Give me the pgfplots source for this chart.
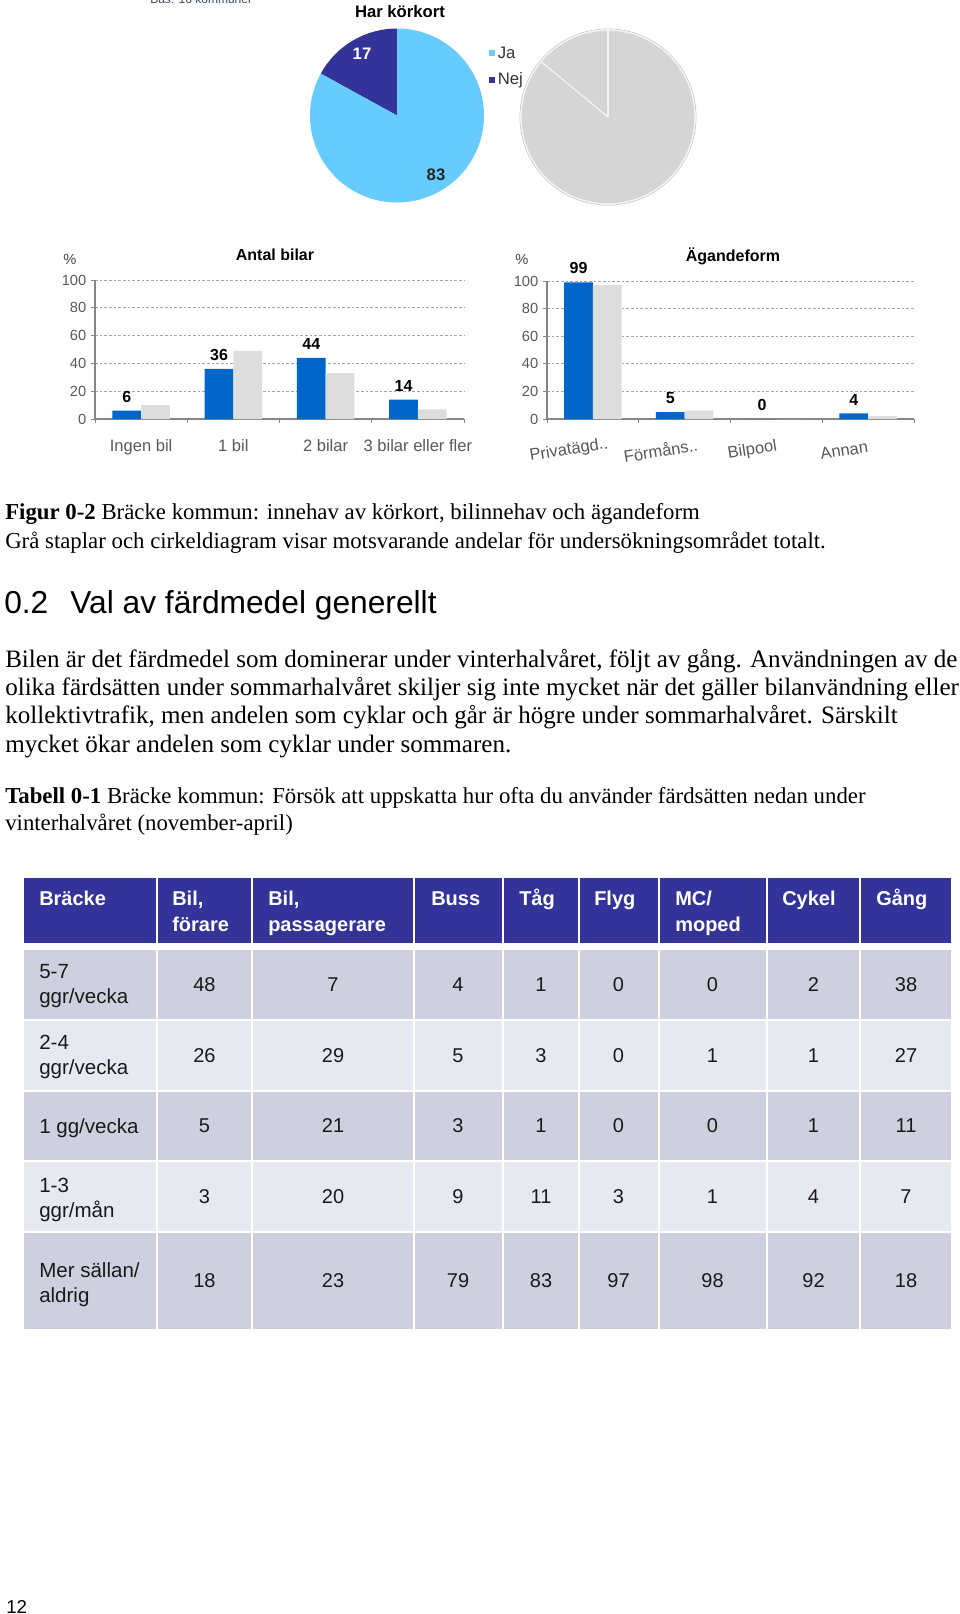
\documentclass[border=0pt]{standalone}
\usepackage{fontspec}
\setmainfont{Liberation Serif}
\newfontfamily\arial{Liberation Sans}
\usepackage{pgfplots}
\pgfplotsset{compat=1.18}

\definecolor{barblue}{HTML}{0066CC}
\definecolor{bargrey}{HTML}{DDDDDD}
\definecolor{pieja}{HTML}{66CCFF}
\definecolor{pienej}{HTML}{333399}
\definecolor{piegrey}{HTML}{D5D5D5}
\definecolor{hdr}{HTML}{333399}
\definecolor{rowA}{RGB}{207,207,223}
\definecolor{rowB}{RGB}{232,232,240}
\definecolor{ticktext}{HTML}{595959}
\definecolor{axisgrey}{HTML}{868686}
\definecolor{gridgrey}{HTML}{A6A6A6}
\definecolor{celltext}{HTML}{1A1A1A}

\pgfplotsset{barchart/.style={
  scale only axis, anchor=south west,
  xmin=0, xmax=4, ymin=0, ymax=100,
  enlargelimits=false,
  axis x line*=bottom, axis y line*=left,
  axis line style={axisgrey, line width=0.8pt},
  xtick={0,1,2,3,4}, x tick label as interval,
  ytick={0,20,...,100},
  tick align=outside, major tick length=3pt,
  tick style={axisgrey, line width=0.6pt},
  ymajorgrids,
  major grid style={gridgrey, dash pattern=on 2pt off 1.5pt, line width=0.6pt},
  ybar=0pt, bar width=21.5pt,
  yticklabel style={font=\arial\fontsize{11}{12}\selectfont, text=ticktext},
  /pgf/number format/assume math mode=true,
  clip=false,
}}
\tikzset{
  datalbl/.style={font=\arial\bfseries\fontsize{12}{13}\selectfont, text=black, anchor=south, inner sep=0pt, yshift=6pt},
  cellnum/.style={font=\arial\fontsize{15}{18}\selectfont, text=celltext, inner sep=0pt, anchor=center},
  celllbl/.style={font=\arial\fontsize{15.4}{18}\selectfont, text=celltext, inner sep=0pt, anchor=base west},
  hdrtxt/.style={font=\arial\bfseries\fontsize{15}{18}\selectfont, text=white, inner sep=0pt, anchor=base west},
  body/.style={font=\fontsize{18.8}{22}\selectfont, inner sep=0pt, anchor=base west},
  capt/.style={font=\fontsize{17.1}{20}\selectfont, inner sep=0pt, anchor=base west},
}
\newcommand\rowvals[2]{%
  \foreach \v [count=\i from 0] in {#2} {%
    \pgfmathsetmacro\xc{{204.5,333,458,541,618.5,712.5,813.5,906}[\i]}%
    \node[cellnum] at (\xc,#1) {\v};}}

% pie data
\def\JaA{83}\def\NejA{17}
\def\JaB{86}\def\NejB{14}

\begin{document}
\begin{tikzpicture}[x=0.75pt, y=-0.75pt]
\useasboundingbox (0,0) rectangle (960,1614);
\fill[white] (0,0) rectangle (960,1614);
\clip (0,0) rectangle (960,1614);

% clipped header text at very top
\node[anchor=base west, inner sep=0, font=\arial\fontsize{9}{11}\selectfont, text={rgb,255:red,60;green,70;blue,110}] at (150,3) {Bas: 16 kommuner};

% ---------- Pie charts ----------
\coordinate (pieA) at (397,115.5);
\coordinate (pieB) at (608,117);
\pgfmathsetmacro\angA{90+\NejA*3.6}
\pgfmathsetmacro\angB{90+\NejB*3.6}

\begin{axis}[at={(pieA)}, anchor=center, scale only axis, width=130.5pt, height=130.5pt,
  xmin=-1, xmax=1, ymin=-1, ymax=1, hide axis, clip=false]
  \fill[pienej] (axis cs:0,0) -- ++(90:65.25pt) arc[start angle=90, end angle=\angA, radius=65.25pt] -- cycle;
  \fill[pieja] (axis cs:0,0) -- ++(\angA:65.25pt) arc[start angle=\angA, end angle=450, radius=65.25pt] -- cycle;
\end{axis}

\begin{axis}[at={(pieB)}, anchor=center, scale only axis, width=130.5pt, height=130.5pt,
  xmin=-1, xmax=1, ymin=-1, ymax=1, hide axis, clip=false]
  \draw[gray!45, line width=0.6pt] (axis cs:0,0) circle[radius=66pt];
  \fill[piegrey] (axis cs:0,0) -- ++(90:65.25pt) arc[start angle=90, end angle=\angB, radius=65.25pt] -- cycle;
  \fill[piegrey] (axis cs:0,0) -- ++(\angB:65.25pt) arc[start angle=\angB, end angle=450, radius=65.25pt] -- cycle;
  \draw[white!92!gray, line width=1pt] (axis cs:0,0) circle[radius=65.25pt];
  \draw[white!92!gray, line width=0.9pt] (axis cs:0,0) -- ++(90:65.25pt);
  \draw[white!92!gray, line width=0.9pt] (axis cs:0,0) -- ++(\angB:65.25pt);
\end{axis}

\node[font=\arial\bfseries\fontsize{12.5}{14}\selectfont, inner sep=0] at (400,12) {Har körkort};
\node[font=\arial\bfseries\fontsize{12.5}{14}\selectfont, text=white, inner sep=0] at (362,54) {\NejA};
\node[font=\arial\bfseries\fontsize{12.5}{14}\selectfont, text=black!85, inner sep=0] at (436,175) {\JaA};
\fill[pieja] (489,50) rectangle (495,56);
\fill[pienej] (489,77) rectangle (495,83);
\node[anchor=west, inner sep=0, font=\arial\fontsize{12.5}{14}\selectfont, text=black!80] at (497.5,53) {Ja};
\node[anchor=west, inner sep=0, font=\arial\fontsize{12.5}{14}\selectfont, text=black!80] at (497.5,80) {Nej};

% ---------- Bar chart: Antal bilar ----------
\coordinate (barA) at (95,419);
\begin{axis}[barchart, at={(barA)}, width=276.75pt, height=104.25pt,
  xticklabels={Ingen bil, 1 bil, 2 bilar, 3 bilar eller fler},
  xticklabel style={font=\arial\fontsize{12.4}{14}\selectfont, text=ticktext, anchor=base, yshift=-21pt}]
  \addplot[fill=barblue, draw=none, nodes near coords, nodes near coords style={datalbl}]
    coordinates {(0.5,6) (1.5,36) (2.5,44) (3.5,14)};
  \addplot[fill=bargrey, draw=none]
    coordinates {(0.5,10) (1.5,49) (2.5,33) (3.5,7)};
\end{axis}
\node[font=\arial\bfseries\fontsize{12}{14}\selectfont, inner sep=0] at (275,255) {Antal bilar};
\node[font=\arial\fontsize{11}{12}\selectfont, text=ticktext!80!black, inner sep=0] at (70,259) {\%};

% ---------- Bar chart: Ägandeform ----------
\coordinate (barB) at (547,419);
\begin{axis}[barchart, at={(barB)}, width=275.25pt, height=103.5pt,
  xticklabels={Privatägd.., Förmåns.., Bilpool, Annan},
  xticklabel style={font=\arial\fontsize{12.4}{14}\selectfont, text=ticktext, anchor=center, rotate=9, xshift=-21pt, yshift=-17.5pt}]
  \addplot[fill=barblue, draw=none, nodes near coords, nodes near coords style={datalbl}]
    coordinates {(0.5,99) (1.5,5) (2.5,0) (3.5,4)};
  \addplot[fill=bargrey, draw=none]
    coordinates {(0.5,97) (1.5,6) (2.5,0) (3.5,2)};
\end{axis}
\node[font=\arial\bfseries\fontsize{12}{14}\selectfont, inner sep=0] at (733,256) {Ägandeform};
\node[font=\arial\fontsize{11}{12}\selectfont, text=ticktext!80!black, inner sep=0] at (522,259) {\%};

% ---------- Text ----------
\node[capt] at (5,519) {\textbf{Figur 0-2} Bräcke kommun: innehav av körkort, bilinnehav och ägandeform};
\node[capt] at (5,548) {Grå staplar och cirkeldiagram visar motsvarande andelar för undersökningsområdet totalt.};
\node[anchor=base west, inner sep=0, font=\arial\fontsize{23.8}{28}\selectfont] at (4,613) {0.2\hspace{16.5pt}Val av färdmedel generellt};
\node[body] at (5,667) {Bilen är det färdmedel som dominerar under vinterhalvåret, följt av gång. Användningen av de};
\node[body] at (5,695) {olika färdsätten under sommarhalvåret skiljer sig inte mycket när det gäller bilanvändning eller};
\node[body] at (5,723) {kollektivtrafik, men andelen som cyklar och går är högre under sommarhalvåret. Särskilt};
\node[body] at (5,752) {mycket ökar andelen som cyklar under sommaren.};
\node[capt] at (5,803) {\textbf{Tabell 0-1} Bräcke kommun: Försök att uppskatta hur ofta du använder färdsätten nedan under};
\node[capt] at (5,830) {vinterhalvåret (november-april)};

% ---------- Table ----------
\foreach \l/\r in {24/156, 158/251, 253/412.5, 414.5/502, 504/577.5, 579.5/657.5, 659.5/766, 768/859, 861/951} {
  \fill[hdr] (\l,878) rectangle (\r,943);
  \fill[rowA] (\l,950) rectangle (\r,1019);
  \fill[rowB] (\l,1021) rectangle (\r,1090);
  \fill[rowA] (\l,1092) rectangle (\r,1160);
  \fill[rowB] (\l,1162) rectangle (\r,1231);
  \fill[rowA] (\l,1233) rectangle (\r,1329);
}
\node[hdrtxt] at (39,905) {Bräcke};
\node[hdrtxt] at (172,905) {Bil,};
\node[hdrtxt] at (172,931) {förare};
\node[hdrtxt] at (268,905) {Bil,};
\node[hdrtxt] at (268,931) {passagerare};
\node[hdrtxt] at (431,905) {Buss};
\node[hdrtxt] at (519,905) {Tåg};
\node[hdrtxt] at (594,905) {Flyg};
\node[hdrtxt] at (675,905) {MC/};
\node[hdrtxt] at (675,931) {moped};
\node[hdrtxt] at (782,905) {Cykel};
\node[hdrtxt] at (876,905) {Gång};

\node[celllbl] at (39,978) {5-7};
\node[celllbl] at (39,1003) {ggr/vecka};
\node[celllbl] at (39,1049) {2-4};
\node[celllbl] at (39,1074) {ggr/vecka};
\node[celllbl] at (39,1133) {1 gg/vecka};
\node[celllbl] at (39,1192) {1-3};
\node[celllbl] at (39,1217) {ggr/mån};
\node[celllbl] at (39,1277) {Mer sällan/};
\node[celllbl] at (39,1302) {aldrig};

\rowvals{984.5}{48,7,4,1,0,0,2,38}
\rowvals{1055.5}{26,29,5,3,0,1,1,27}
\rowvals{1126}{5,21,3,1,0,0,1,11}
\rowvals{1196.5}{3,20,9,11,3,1,4,7}
\rowvals{1281}{18,23,79,83,97,98,92,18}

\node[anchor=base west, inner sep=0, font=\arial\fontsize{14}{16}\selectfont] at (6,1613) {12};
\end{tikzpicture}
\end{document}
